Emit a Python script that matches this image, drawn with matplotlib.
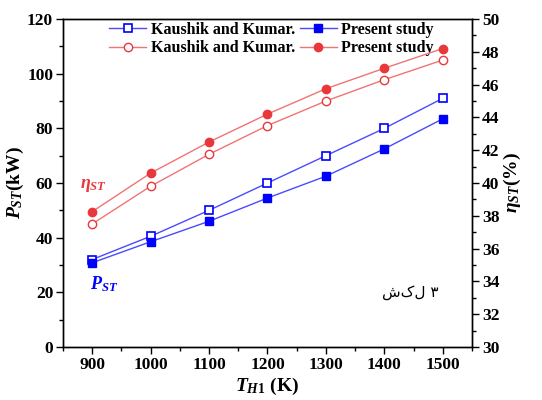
import matplotlib
matplotlib.use("Agg")
import matplotlib.pyplot as plt
from matplotlib.ticker import MultipleLocator

plt.rcParams["font.family"] = ["Liberation Serif", "DejaVu Sans"]
plt.rcParams["mathtext.fontset"] = "custom"
plt.rcParams["mathtext.rm"] = "Liberation Serif:bold"
plt.rcParams["mathtext.it"] = "Liberation Serif:bold:italic"
plt.rcParams["mathtext.bf"] = "Liberation Serif:bold"

# Data
temps = [900, 1000, 1100, 1200, 1300, 1400, 1500]
power_kaushik = [32.0, 40.5, 50.0, 60.0, 70.0, 80.0, 91.0]
power_present = [30.8, 38.5, 46.0, 54.5, 62.5, 72.5, 83.5]
eff_kaushik = [37.5, 39.8, 41.75, 43.5, 45.0, 46.3, 47.5]
eff_present = [38.25, 40.6, 42.5, 44.2, 45.75, 47.0, 48.2]

blue = "#0000ff"
blue_line = "#4a4aff"
red = "#e8383c"
red_line = "#f07474"

fig = plt.figure(figsize=(5.42, 4.0), dpi=100)
ax = fig.add_axes([0.116, 0.1325, 0.755, 0.82])
ax2 = ax.twinx()

l1, = ax.plot(temps, power_kaushik, "-s", color=blue_line, lw=1, ms=6,
              mfc="white", mec=blue, mew=1.2, label="Kaushik and Kumar.")
l2, = ax.plot(temps, power_present, "-s", color=blue_line, lw=1, ms=6,
              mfc=blue, mec=blue, label="Present study")
l3, = ax2.plot(temps, eff_kaushik, "-o", color=red_line, lw=1, ms=6,
               mfc="white", mec=red, mew=1.0, label="Kaushik and Kumar.")
l4, = ax2.plot(temps, eff_present, "-o", color=red_line, lw=1, ms=6,
               mfc=red, mec=red, label="Present study")

ax.set_xlim(850, 1550)
ax.set_ylim(0, 120)
ax2.set_ylim(30, 50)
ax.xaxis.set_major_locator(MultipleLocator(100))
ax.xaxis.set_minor_locator(MultipleLocator(50))
ax.yaxis.set_major_locator(MultipleLocator(20))
ax.yaxis.set_minor_locator(MultipleLocator(10))
ax2.yaxis.set_major_locator(MultipleLocator(2))
ax2.yaxis.set_minor_locator(MultipleLocator(1))

for a in (ax, ax2):
    a.tick_params(which="major", length=5, width=1, labelsize=12.5, pad=2)
    a.tick_params(which="minor", length=3, width=1)
    for lab in a.get_xticklabels() + a.get_yticklabels():
        lab.set_fontweight("bold")
    for s in a.spines.values():
        s.set_linewidth(1)

ax.set_xlabel(r"$T_{H1}$ (K)", fontsize=14, fontweight="bold", labelpad=2)
ax.set_ylabel(r"$P_{ST}$(kW)", fontsize=14, fontweight="bold", labelpad=1)
ax2.set_ylabel(r"$\eta_{ST}$(%)", fontsize=14, fontweight="bold", labelpad=2)

ax.text(880, 58, r"$\eta_{ST}$", color=red, fontsize=13)
ax.text(896, 21, r"$P_{ST}$", color=blue, fontsize=13)
ax.text(1445, 20, "شکل ۳", fontsize=11, ha="center", va="center",
        family=["DejaVu Sans"])

# column-major fill: blue open, red open | blue filled, red filled
ax.legend([l1, l3, l2, l4],
          ["Kaushik and Kumar.", "Kaushik and Kumar.", "Present study", "Present study"],
          ncol=2, loc="upper center", bbox_to_anchor=(0.51, 1.035), frameon=False,
          prop={"weight": "bold", "size": 11.5}, handlelength=2.3,
          handletextpad=0.3, columnspacing=0.3, labelspacing=0.15)

fig.savefig("out.png", dpi=100)
